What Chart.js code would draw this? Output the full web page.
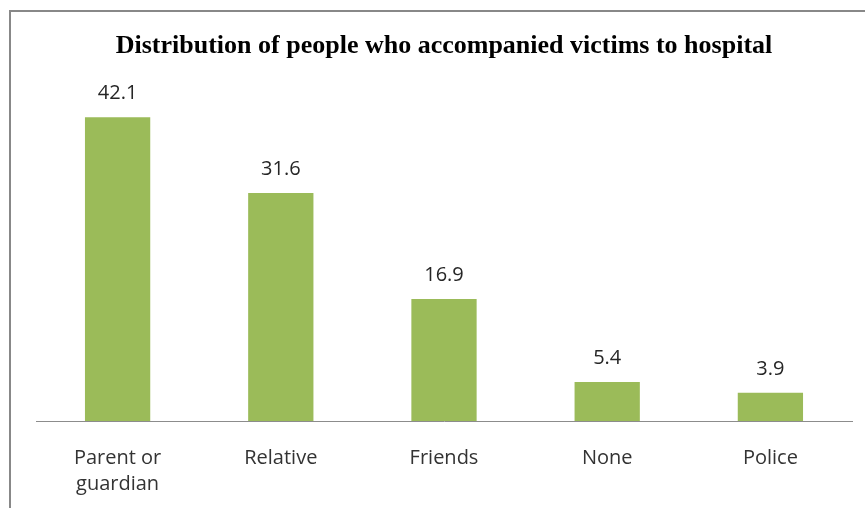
<!DOCTYPE html>
<html>
<head>
<meta charset="utf-8">
<script src="https://cdn.jsdelivr.net/npm/chart.js@4/dist/chart.umd.min.js"></script>
<style>
  html, body { margin: 0; padding: 0; background: #fff; }
  #wrap { width: 865px; height: 508px; }
</style>
</head>
<body>
<div id="wrap"><canvas id="myChart" width="865" height="508"></canvas></div>
<script>
const labels = [
    ['Parent or', 'guardian'],
    'Relative',
    'Friends',
    'None',
    'Police',
];

const values = [42.1, 31.6, 16.9, 5.4, 3.9];

// grey frame around the chart, open at right/bottom edge of the canvas
const framePlugin = {
    id: 'frame',
    beforeDraw(chart) {
        const ctx = chart.ctx;
        ctx.save();
        ctx.strokeStyle = '#888888';
        ctx.lineWidth = 2;
        ctx.beginPath();
        ctx.moveTo(10, chart.height + 2);
        ctx.lineTo(10, 11);
        ctx.lineTo(chart.width + 2, 11);
        ctx.stroke();
        ctx.restore();
    }
};

// value text above each bar
const valueLabels = {
    id: 'valueLabels',
    afterDatasetsDraw(chart) {
        const ctx = chart.ctx;
        const meta = chart.getDatasetMeta(0);
        ctx.save();
        ctx.font = '20px "Open Sans"';
        ctx.fillStyle = '#262626';
        ctx.textAlign = 'center';
        ctx.textBaseline = 'middle';
        meta.data.forEach((bar, i) => {
            ctx.fillText(values[i].toFixed(1), bar.x, bar.y - 24);
        });
        ctx.restore();
    }
};

const data = {
    labels: labels,
    datasets: [{
        backgroundColor: '#9bbb59',
        data: values,
        categoryPercentage: 1,
        barPercentage: 0.4,
    }]
};

const config = {
    type: 'bar',
    data: data,
    options: {
        responsive: false,
        animation: false,
        layout: {
            padding: { left: 36, right: 13, top: 0, bottom: 0 }
        },
        plugins: {
            legend: { display: false },
            tooltip: { enabled: false },
            title: {
                display: true,
                text: 'Distribution of people who accompanied victims to hospital',
                color: '#000',
                font: { family: '"Liberation Serif", serif', size: 26, weight: 'bold', lineHeight: 1.2 },
                padding: { top: 31, bottom: -2 }
            }
        },
        scales: {
            x: {
                grid: { display: false, drawTicks: false },
                border: { display: true, color: '#8c8c8c', width: 1 },
                ticks: {
                    color: '#333333',
                    font: { family: '"Open Sans"', size: 20, lineHeight: 1.3 },
                    padding: 24,
                    maxRotation: 0
                },
                afterFit(scale) {
                    scale.height = 87;
                }
            },
            y: {
                display: false,
                min: 0,
                max: 50
            }
        }
    },
    plugins: [framePlugin, valueLabels]
};

const myChart = new Chart(
    document.getElementById('myChart'),
    config
);
</script>
</body>
</html>
